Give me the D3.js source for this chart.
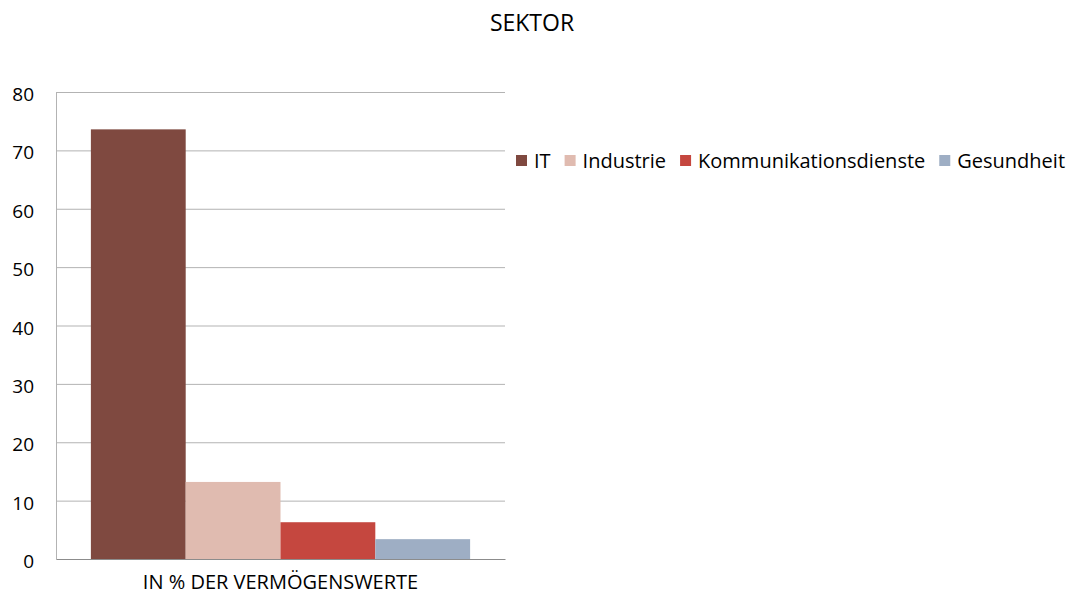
<!DOCTYPE html>
<html>
<head>
<meta charset="utf-8">
<script src="https://cdn.jsdelivr.net/npm/d3@7"></script>
<style>
  body { margin: 0; background: #fff; }
  text { font-family: "Open Sans", sans-serif; fill: #000; }
</style>
</head>
<body>
<div id="chart"></div>
<script>
const Width = 1067
const Height = 596

const groups = ['IN % DER VERMÖGENSWERTE']
const sectors = ['IT', 'Industrie', 'Kommunikationsdienste', 'Gesundheit']
const values = [73.6, 13.2, 6.3, 3.4]
const colors = ['#7f4940', '#e0bbb0', '#c5473f', '#9eaec4']
const yTicks = [0, 10, 20, 30, 40, 50, 60, 70, 80]

const margin = { left: 56, right: 562, top: 92, bottom: 37 }
const plotW = Width - margin.left - margin.right
const plotH = Height - margin.top - margin.bottom

const svg = d3.select('#chart')
    .append('svg')
    .attr('width', Width)
    .attr('height', Height)

svg.append('text')
    .attr('x', 532)
    .attr('y', 31)
    .attr('text-anchor', 'middle')
    .style('font-size', '23px')
    .text('SEKTOR')

const g = svg.append('g')
    .attr('transform', `translate(${margin.left},${margin.top})`)

const y = d3.scaleLinear()
    .domain([0, 80])
    .range([plotH, 0])

const x0 = d3.scaleBand()
    .domain(groups)
    .range([0, plotW])
    .paddingInner(0)
    .paddingOuter(0.092)

const x1 = d3.scaleBand()
    .domain(sectors)
    .range([0, x0.bandwidth()])

// gridlines
g.selectAll('.grid')
    .data(yTicks.filter(t => t > 0))
    .enter().append('line')
    .attr('x1', 0)
    .attr('x2', plotW)
    .attr('y1', d => y(d) + 0.5)
    .attr('y2', d => y(d) + 0.5)
    .attr('stroke', '#b3b3b3')

const yAxisCall = d3.axisLeft(y)
    .tickValues(yTicks)
    .tickSize(0)
    .tickPadding(22)
const yAxis = g.append('g').call(yAxisCall)
yAxis.select('.domain').attr('stroke', '#b3b3b3')
yAxis.selectAll('text').style('font-size', '19px').attr('dy', '0.45em')

const bars = g.append('g')
    .selectAll('g')
    .data(groups)
    .enter().append('g')
    .attr('transform', d => `translate(${x0(d)},0)`)

bars.selectAll('rect')
    .data(sectors.map((s, i) => ({ s, v: values[i], c: colors[i] })))
    .enter().append('rect')
    .attr('x', d => x1(d.s))
    .attr('y', d => y(d.v))
    .attr('width', x1.bandwidth())
    .attr('height', d => plotH - y(d.v))
    .attr('fill', d => d.c)

const xAxisCall = d3.axisBottom(x0).tickSize(0).tickPadding(14)
const xAxis = g.append('g')
    .attr('transform', `translate(0,${plotH})`)
    .call(xAxisCall)
xAxis.select('.domain').attr('stroke', '#8c8c8c')
xAxis.selectAll('text').style('font-size', '20px').attr('dy', '0.8em')

// legend
const legend = svg.append('g').attr('transform', 'translate(516,160)')
let lx = 0
sectors.forEach((s, i) => {
    const item = legend.append('g').attr('transform', `translate(${lx},0)`)
    item.append('rect')
        .attr('x', 0)
        .attr('y', -5)
        .attr('width', 11)
        .attr('height', 11)
        .attr('fill', colors[i])
    const t = item.append('text')
        .attr('x', 18)
        .attr('y', 0)
        .attr('dy', '0.38em')
        .style('font-size', '20px')
        .text(s)
    lx += 18 + t.node().getComputedTextLength() + 14
})
</script>
</body>
</html>
